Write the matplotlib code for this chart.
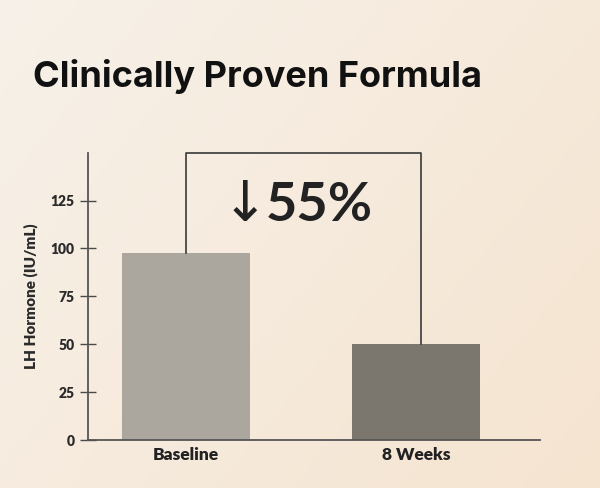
import numpy as np
import matplotlib
matplotlib.use("Agg")
from matplotlib import pyplot as plt

# Chart data
categories = ["Baseline", "8 Weeks"]
values = [97.6, 50.0]
bar_colors = ["#aba79e", "#7b776f"]
yticks = [0, 25, 50, 75, 100, 125]
change_arrow = "\u2193"
change_label = "55%"

plt.rcParams['font.family'] = ['Lato', 'DejaVu Sans']

fig = plt.figure(figsize=(6, 4.88), dpi=100)

# Soft cream background gradient
bg = fig.add_axes([0, 0, 1, 1], zorder=-10)
gx, gy = np.meshgrid(np.linspace(0, 1, 200), np.linspace(0, 1, 200))
t = (gx * 0.6 + gy * 0.4)
c0 = np.array([247, 241, 233]) / 255.0
c1 = np.array([245, 228, 208]) / 255.0
grad = c0[None, None, :] * (1 - t[..., None]) + c1[None, None, :] * t[..., None]
bg.imshow(grad, aspect='auto', extent=[0, 1, 0, 1], origin='upper')
bg.axis('off')

ax = fig.add_axes([88 / 600, 1 - 440 / 488, (540 - 88) / 600, (440 - 152.7) / 488])
ax.patch.set_alpha(0)

x = np.arange(len(categories))
ax.bar(x, values, width=0.56, color=bar_colors, zorder=2)

ax.set_xlim(-0.426, 1.539)
ax.set_ylim(0, 150)
ax.set_yticks(yticks)
ax.set_yticklabels([str(v) for v in yticks], fontsize=10, fontweight='heavy', color='#2a2a2a')
ax.set_xticks(x)
ax.set_xticklabels(categories, fontsize=12.5, fontweight='heavy', color='#222222')
ax.tick_params(axis='x', length=0, pad=5)
ax.tick_params(axis='y', direction='inout', length=11, width=1, color='#4a4a4a', pad=4)

for side in ['top', 'right']:
    ax.spines[side].set_visible(False)
for side in ['left', 'bottom']:
    ax.spines[side].set_color('#555555')
    ax.spines[side].set_linewidth(1.3)

ax.set_ylabel("LH Hormone (IU/mL)", fontsize=11, fontweight='heavy', color='#2a2a2a', labelpad=9)

# Bracket connecting the two bars
bx0, bx1 = x[0], x[1] + 0.02
ax.plot([bx0, bx0, bx1, bx1], [values[0], 150, 150, values[1]],
        color='#3a3a3a', lw=1.2, zorder=3, clip_on=False)
mid = (bx0 + bx1) / 2
ax.annotate(change_label, xy=(mid, 114.2), xytext=(-27.4, 0), textcoords='offset points',
            ha='left', va='baseline', fontsize=39, color='#222222', fontweight='bold')
ax.annotate(change_arrow, xy=(mid, 114.2), xytext=(-25.5, 0), textcoords='offset points',
            ha='right', va='baseline', fontsize=40, color='#222222',
            family=['DejaVu Sans'])

fig.text(33 / 600, 1 - 87 / 488, "Clinically Proven Formula", fontsize=26,
         fontweight='bold', color='#111111', ha='left', va='baseline',
         family=['Inter', 'DejaVu Sans'])

fig.savefig("out.png", dpi=100)
